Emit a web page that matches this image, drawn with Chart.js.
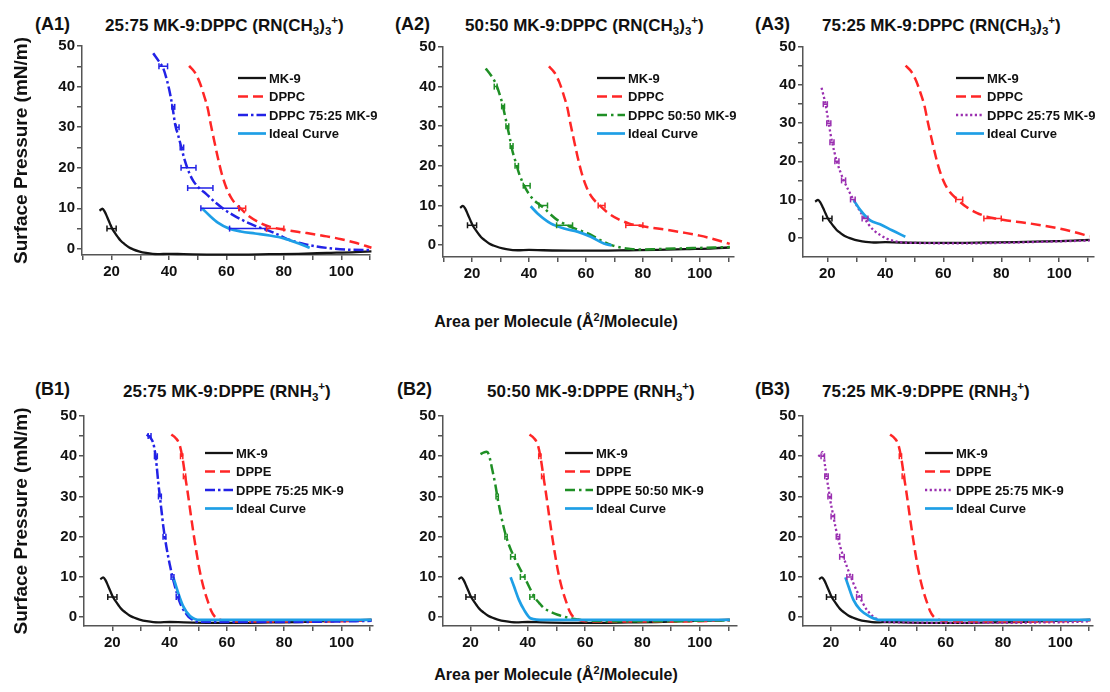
<!DOCTYPE html>
<html>
<head>
<meta charset="utf-8">
<script src="https://cdn.jsdelivr.net/npm/chart.js@4.4.1/dist/chart.umd.min.js"></script>
<style>
  body { margin: 0; background: #fff; }
  #figure { position: relative; width: 1110px; height: 692px; overflow: hidden;
    font-family: "Liberation Sans", Arial, sans-serif; font-weight: bold; color: #111; }
  #figure canvas { position: absolute; }
  .tag, .title, .xtitle { position: absolute; white-space: nowrap; line-height: 1; }
  .tag { font-size: 18px; }
  .title { font-size: 17px; }
  .xtitle { font-size: 16px; transform: translateX(-50%); }
  sub, sup { font-size: 0.68em; line-height: 0; }
</style>
</head>
<body>
<div id="figure">
  <div class="tag" style="left:35px;top:15px">(A1)</div>
  <div class="title" style="left:105px;top:17px">25:75 MK-9:DPPC (RN(CH<sub>3</sub>)<sub>3</sub><sup>+</sup>)</div>
  <div class="tag" style="left:395px;top:15px">(A2)</div>
  <div class="title" style="left:465px;top:17px">50:50 MK-9:DPPC (RN(CH<sub>3</sub>)<sub>3</sub><sup>+</sup>)</div>
  <div class="tag" style="left:755px;top:15px">(A3)</div>
  <div class="title" style="left:822px;top:17px">75:25 MK-9:DPPC (RN(CH<sub>3</sub>)<sub>3</sub><sup>+</sup>)</div>
  <div class="xtitle" style="left:556px;top:314px">Area per Molecule (Å<sup>2</sup>/Molecule)</div>

  <div class="tag" style="left:35px;top:380px">(B1)</div>
  <div class="title" style="left:123px;top:383px">25:75 MK-9:DPPE (RNH<sub>3</sub><sup>+</sup>)</div>
  <div class="tag" style="left:397px;top:380px">(B2)</div>
  <div class="title" style="left:487px;top:383px">50:50 MK-9:DPPE (RNH<sub>3</sub><sup>+</sup>)</div>
  <div class="tag" style="left:755px;top:380px">(B3)</div>
  <div class="title" style="left:822px;top:383px">75:25 MK-9:DPPE (RNH<sub>3</sub><sup>+</sup>)</div>
  <div class="xtitle" style="left:556px;top:667px">Area per Molecule (Å<sup>2</sup>/Molecule)</div>
</div>
<script>
// axis ticks (labels only on every second x tick / every second y tick)
const areaTicks = [10, 20, 30, 40, 50, 60, 70, 80, 90, 100, 110];
const pressureTicks = [0, 5, 10, 15, 20, 25, 30, 35, 40, 45, 50];

// pure MK-9 isotherm (same in every panel)
const mk9Area = [15.8, 16.8, 17.6, 18.5, 19.4, 20.2, 21.2, 22.2, 23.2, 24.5, 26, 27.5, 29.5, 32, 36, 40, 45, 55, 65, 75, 85, 95, 105, 110.5];
const mk9Pressure = [9.4, 9.9, 9.2, 7.8, 6.3, 5.0, 3.9, 2.9, 2.0, 1.2, 0.4, -0.1, -0.6, -1.0, -1.3, -1.2, -1.3, -1.4, -1.4, -1.3, -1.2, -1.0, -0.8, -0.6];
const mk9ErrPressure = [5];
const mk9ErrArea = [20];
const mk9ErrHalf = [1.6];

// pure DPPC (A row)
const dppcArea = [47, 49, 50.7, 52.2, 53.5, 54.6, 55.7, 57, 58.3, 60, 62, 65, 68, 71.5, 75, 78, 82, 88, 94, 100, 105, 110.5];
const dppcPressure = [45.1, 43.5, 41.0, 37.8, 34.6, 30.5, 26.8, 22.5, 18.7, 15.0, 12.2, 9.9, 8.0, 6.5, 5.5, 5.0, 4.5, 3.9, 3.2, 2.4, 1.5, 0.3];
const dppcErrPressure = [10, 5];
const dppcErrArea = [65.5, 77];
const dppcErrHalf = [1.2, 3];

// pure DPPE (B row)
const dppeArea = [40.6, 42, 43.5, 44.5, 45.4, 46.4, 47.4, 48.4, 49.4, 50.4, 51.4, 52.4, 53.4, 54.5, 55.7, 57.5, 60, 70, 80, 90, 100, 110.5];
const dppePressure = [45.4, 44.6, 42.8, 39.5, 35.2, 30.5, 25.4, 20.5, 16.0, 11.9, 8.6, 6.0, 3.8, 1.6, 0.2, -0.6, -1.0, -1.1, -1.1, -1.1, -1.0, -0.8];
const dppeErrPressure = [40, 35];
const dppeErrArea = [44.2, 45.2];
const dppeErrHalf = [0.4, 0.4];

// A1: DPPC 75:25 MK-9
const a1MixArea = [34.5, 36.5, 38, 39.3, 40.3, 41.2, 42.2, 43.2, 44.3, 45.5, 47, 48.5, 50.5, 53, 56.4, 59.5, 62.2, 65, 68, 71, 74, 78, 82, 86, 91.4, 97, 103, 110.5];
const a1MixPressure = [48.2, 46.2, 44.5, 41.5, 38.5, 35, 30.5, 28, 25, 21.8, 18.8, 16.7, 15, 13.5, 11.3, 9.6, 8.4, 7.3, 6.3, 5.4, 4.7, 3.5, 2.2, 1.4, 0.6, 0.1, -0.2, -0.3];
const a1MixErrPressure = [45, 35, 30, 25, 20, 15, 10, 5];
const a1MixErrArea = [38, 41.5, 43, 44.5, 46.8, 50.9, 57.8, 67.5];
const a1MixErrHalf = [1.5, 0.5, 0.5, 0.6, 2.6, 4.4, 6.7, 6.4];
const a1IdealArea = [51.5, 54, 57, 61, 65, 70, 75, 80, 85, 89];
const a1IdealPressure = [10, 8.3, 6.5, 5, 4.3, 3.8, 3.3, 2.6, 1.4, 0.3];

// A2: DPPC 50:50 MK-9
const a2MixArea = [24.8, 26.5, 28.3, 29.5, 30.6, 31.5, 32.4, 33.3, 34.1, 35.3, 36.5, 37.6, 38.8, 40.2, 41.7, 43.5, 45.3, 47.5, 50, 52.3, 54.6, 57.5, 60.5, 63.5, 66.3, 69, 72.2, 75, 78, 85, 95, 105, 110.5];
const a2MixPressure = [44.6, 43, 40.8, 38.5, 35.8, 32.9, 29.9, 26.9, 24, 21, 18.1, 16.1, 14.3, 12.7, 11.4, 10.3, 9.3, 7.8, 6.3, 5.4, 4.6, 3.8, 3.0, 1.9, 0.8, 0.0, -0.6, -0.9, -1.1, -1.0, -0.8, -0.6, -0.5];
const a2MixErrPressure = [40, 35, 30, 25, 20, 15, 10, 5];
const a2MixErrArea = [28.3, 30.9, 32.4, 33.9, 35.7, 39.2, 45, 52.5];
const a2MixErrHalf = [0.5, 0.5, 0.5, 0.5, 0.6, 1.2, 1.5, 2.8];
const a2IdealArea = [40.6, 43, 47.6, 52.3, 57, 61.7, 66.3, 69];
const a2IdealPressure = [9.8, 8, 5.5, 4.2, 3.4, 2.1, 0.4, -0.1];

// A3: DPPC 25:75 MK-9
const a3MixArea = [18, 18.7, 19.3, 19.9, 20.5, 21, 21.6, 22.4, 23.3, 24.4, 25.6, 27.3, 29.1, 30.8, 32.5, 34.2, 36, 38.2, 40.5, 45, 50, 60, 70, 80, 90, 100, 110.5];
const a3MixPressure = [39.3, 37.2, 35.3, 32.6, 30, 27.6, 25.2, 22.5, 19.9, 17.4, 15.1, 12.4, 9.8, 7.5, 5.4, 3.5, 1.9, 0.7, -0.3, -1.2, -1.4, -1.5, -1.5, -1.4, -1.2, -1.0, -0.8];
const a3MixErrPressure = [35, 30, 25, 20, 15, 10, 5];
const a3MixErrArea = [19.3, 20.5, 21.6, 23.3, 25.6, 28.8, 33];
const a3MixErrHalf = [0.7, 0.7, 0.7, 0.7, 0.7, 0.8, 1];
const a3IdealArea = [29.1, 31.4, 34.8, 38.2, 42.3, 46.9];
const a3IdealPressure = [9.8, 7.2, 4.5, 3.5, 1.9, 0.2];

// B1: DPPE 75:25 MK-9
const b1MixArea = [32, 33.3, 34.3, 35, 35.5, 36, 36.6, 37.2, 37.8, 38.6, 39.5, 40.1, 40.7, 41.6, 42.5, 43.3, 44.2, 45.4, 46.6, 48, 49.5, 55, 65, 75, 85, 95, 105, 110.5];
const b1MixPressure = [45.4, 44.6, 43.2, 40.5, 37.4, 33.7, 29.9, 26.2, 22.5, 18.6, 15, 12.9, 10.9, 8.3, 6, 4.2, 2.6, 1.2, 0.1, -0.6, -1.1, -1.2, -1.2, -1.2, -1.2, -1.1, -1.0, -0.9];
const b1MixErrPressure = [45, 40, 30, 20, 10, 5];
const b1MixErrArea = [33, 35.2, 36.6, 38.2, 41, 42.8];
const b1MixErrHalf = [0.5, 0.5, 0.5, 0.5, 0.5, 0.5];
const b1IdealArea = [41.3, 43, 44.8, 47.1, 50.6, 55, 65, 75, 85, 95, 105, 110.5];
const b1IdealPressure = [9.9, 6, 2.6, 0.3, -0.7, -0.7, -0.7, -0.7, -0.7, -0.7, -0.7, -0.7];

// B2: DPPE 50:50 MK-9
const b2MixArea = [23.5, 24.5, 25.7, 26.4, 26.9, 27.7, 28.6, 29.5, 30.5, 31.6, 32.8, 34, 35.2, 37, 38.7, 40.5, 42.2, 44, 45.7, 48, 50.4, 55, 60, 70, 80, 90, 100, 110.5];
const b2MixPressure = [40.5, 40.9, 41.1, 40.4, 39, 36.3, 33.2, 29.4, 25.8, 22.3, 19.2, 16.9, 15, 12.4, 10.1, 7.5, 5.1, 3.5, 2.2, 1.3, 0.6, -0.3, -0.8, -1.0, -1.0, -1.0, -0.9, -0.8];
const b2MixErrPressure = [30, 20, 15, 10, 5];
const b2MixErrArea = [29.3, 32.4, 34.8, 38.2, 41.5];
const b2MixErrHalf = [0.4, 0.4, 0.8, 0.8, 0.8];
const b2IdealArea = [34, 35.2, 36.9, 38.7, 41, 45.7, 55, 65, 75, 85, 95, 105, 110.5];
const b2IdealPressure = [9.9, 7.6, 4.3, 1.8, -0.3, -0.7, -0.7, -0.7, -0.7, -0.7, -0.7, -0.7, -0.7];

// B3: DPPE 25:75 MK-9
const b3MixArea = [15.6, 16.4, 17.1, 17.9, 18.6, 19.2, 19.7, 20.6, 21.5, 22.3, 23.2, 24.3, 25.5, 26.6, 27.8, 29, 30.2, 31.3, 32.5, 33.6, 34.8, 36.5, 38.3, 45, 55, 65, 75, 85, 95, 105, 110.5];
const b3MixPressure = [39.9, 40.6, 41.1, 37.6, 34.1, 31.6, 29.1, 25.8, 22.5, 20, 17.5, 15, 12.6, 10.5, 8.4, 6.5, 4.7, 3.2, 1.8, 0.9, 0.1, -0.6, -1.1, -1.3, -1.4, -1.4, -1.4, -1.4, -1.3, -1.2, -1.0];
const b3MixErrPressure = [40, 35, 30, 25, 20, 15, 10, 5];
const b3MixErrArea = [17.1, 18.4, 19.5, 20.6, 22.4, 23.8, 26.5, 29.8];
const b3MixErrHalf = [0.6, 0.6, 0.6, 0.6, 0.6, 0.8, 1.0, 0.9];
const b3IdealArea = [25, 26.1, 27.8, 30.2, 33.6, 37.1, 45, 55, 65, 75, 85, 95, 105, 110.5];
const b3IdealPressure = [9.9, 7.6, 4.3, 1.8, 0.1, -0.7, -0.7, -0.7, -0.7, -0.7, -0.7, -0.7, -0.7, -0.7];

const FONT = '"Liberation Sans", Arial, sans-serif';
Chart.defaults.font.family = FONT;
Chart.defaults.font.weight = 'bold';
Chart.defaults.font.size = 15;
Chart.defaults.color = '#111';

const styles = {
  mk9: { color: '#141414', dash: [], width: 2.3 },
  dppc: { color: '#ff2626', dash: [10, 5], width: 2.5 },
  blue: { color: '#2222e6', dash: [10, 3, 2.5, 3], width: 2.5 },
  green: { color: '#1f8f25', dash: [10, 4, 2.5, 4], width: 2.5 },
  purple: { color: '#9a2fb0', dash: [2.2, 2.5], width: 2.3 },
  ideal: { color: '#1e9fe6', dash: [], width: 2.7 },
};

function toPoints(xs, ys) {
  return xs.map((x, i) => ({ x, y: ys[i] }));
}

function curve(label, xs, ys, st, order) {
  return {
    label, data: toPoints(xs, ys), showLine: true, inLegend: true, order,
    borderColor: st.color, borderWidth: st.width, borderDash: st.dash,
    pointRadius: 0, cubicInterpolationMode: 'monotone',
  };
}

// horizontal error bars: two end points per bar, broken by an empty point
function errorBars(ys, xs, halves, st) {
  const data = [];
  ys.forEach((y, i) => {
    data.push({ x: xs[i] - halves[i], y }, { x: xs[i] + halves[i], y }, { x: null, y: null });
  });
  return {
    label: 'err', data, showLine: true, order: 0, spanGaps: false,
    borderColor: st.color, borderWidth: 1.5,
    pointStyle: 'line', rotation: 90, pointRadius: 3, pointBorderWidth: 1.5,
    pointBorderColor: st.color, pointBackgroundColor: st.color,
  };
}

// legend drawn inside the plot area, top right
const insideLegend = {
  id: 'insideLegend',
  afterDatasetsDraw(chart, args, opts) {
    const { ctx, chartArea } = chart;
    const x0 = chartArea.left + opts.x;
    let y = chartArea.top + opts.y;
    ctx.save();
    ctx.font = 'bold 13px ' + FONT;
    ctx.textBaseline = 'middle';
    chart.data.datasets.forEach((ds) => {
      if (!ds.inLegend) return;
      ctx.strokeStyle = ds.borderColor;
      ctx.lineWidth = ds.borderWidth;
      ctx.setLineDash(ds.borderDash || []);
      ctx.beginPath();
      ctx.moveTo(x0, y);
      ctx.lineTo(x0 + 28, y);
      ctx.stroke();
      ctx.setLineDash([]);
      ctx.fillStyle = '#111';
      ctx.fillText(ds.label, x0 + 31, y + 1);
      y += 18.5;
    });
    ctx.restore();
  },
};

const panels = [
  { box: [82, 46, 370, 255], xr: [9.7, 110], yr: [-1.5, 50], yTitle: true, leg: [156, 32],
    pure: 'DPPC', mixLabel: 'DPPC 75:25 MK-9', mix: [a1MixArea, a1MixPressure], mixErr: [a1MixErrPressure, a1MixErrArea, a1MixErrHalf],
    ideal: [a1IdealArea, a1IdealPressure], mixStyle: styles.blue },
  { box: [443, 47, 734, 257], xr: [9.8, 112], yr: [-3, 50], leg: [154, 31],
    pure: 'DPPC', mixLabel: 'DPPC 50:50 MK-9', mix: [a2MixArea, a2MixPressure], mixErr: [a2MixErrPressure, a2MixErrArea, a2MixErrHalf],
    ideal: [a2IdealArea, a2IdealPressure], mixStyle: styles.green },
  { box: [803, 47, 1094, 257], xr: [11.6, 112], yr: [-5.1, 50], leg: [153, 31],
    pure: 'DPPC', mixLabel: 'DPPC 25:75 MK-9', mix: [a3MixArea, a3MixPressure], mixErr: [a3MixErrPressure, a3MixErrArea, a3MixErrHalf],
    ideal: [a3IdealArea, a3IdealPressure], mixStyle: styles.purple },
  { box: [84, 416, 373, 626], xr: [10.1, 111], yr: [-2.2, 50], yTitle: true, leg: [121, 37],
    pure: 'DPPE', mixLabel: 'DPPE 75:25 MK-9', mix: [b1MixArea, b1MixPressure], mixErr: [b1MixErrPressure, b1MixErrArea, b1MixErrHalf],
    ideal: [b1IdealArea, b1IdealPressure], mixStyle: styles.blue },
  { box: [443, 416, 737, 626], xr: [10.4, 113], yr: [-2.2, 50], leg: [122, 37],
    pure: 'DPPE', mixLabel: 'DPPE 50:50 MK-9', mix: [b2MixArea, b2MixPressure], mixErr: [b2MixErrPressure, b2MixErrArea, b2MixErrHalf],
    ideal: [b2IdealArea, b2IdealPressure], mixStyle: styles.green },
  { box: [803, 416, 1093, 626], xr: [10.2, 111.4], yr: [-2.2, 50], leg: [122, 37],
    pure: 'DPPE', mixLabel: 'DPPE 25:75 MK-9', mix: [b3MixArea, b3MixPressure], mixErr: [b3MixErrPressure, b3MixErrArea, b3MixErrHalf],
    ideal: [b3IdealArea, b3IdealPressure], mixStyle: styles.purple },
];

const figure = document.getElementById('figure');

panels.forEach((p) => {
  const [left, top, right, bottom] = p.box;
  const yW = p.yTitle ? left : 50;
  const padTop = 12, padRight = 18, xH = 30;
  const canvas = document.createElement('canvas');
  const w = yW + (right - left) + padRight;
  const h = padTop + (bottom - top) + xH;
  canvas.width = w; canvas.height = h;
  canvas.style.left = (left - yW) + 'px';
  canvas.style.top = (top - padTop) + 'px';
  canvas.style.width = w + 'px';
  canvas.style.height = h + 'px';
  figure.appendChild(canvas);

  const isA = p.pure === 'DPPC';
  const pureX = isA ? dppcArea : dppeArea;
  const pureY = isA ? dppcPressure : dppePressure;
  const pureErr = isA ? [dppcErrPressure, dppcErrArea, dppcErrHalf] : [dppeErrPressure, dppeErrArea, dppeErrHalf];

  const datasets = [
    curve('MK-9', mk9Area, mk9Pressure, styles.mk9, 5),
    curve(p.pure, pureX, pureY, styles.dppc, 4),
    curve(p.mixLabel, p.mix[0], p.mix[1], p.mixStyle, 3),
    curve('Ideal Curve', p.ideal[0], p.ideal[1], styles.ideal, 2),
    errorBars(mk9ErrPressure, mk9ErrArea, mk9ErrHalf, styles.mk9),
    errorBars(pureErr[0], pureErr[1], pureErr[2], styles.dppc),
    errorBars(p.mixErr[0], p.mixErr[1], p.mixErr[2], p.mixStyle),
  ];

  const axisLine = { color: '#555', width: 1.5 };
  const tickGrid = { drawOnChartArea: false, drawTicks: true, tickLength: 5, color: '#555', lineWidth: 1.5 };

  new Chart(canvas.getContext('2d'), {
    type: 'scatter',
    data: { datasets },
    options: {
      responsive: false,
      animation: false,
      devicePixelRatio: 1,
      layout: { padding: { top: padTop, right: padRight, left: 0, bottom: 0 } },
      clip: false,
      plugins: {
        legend: { display: false },
        tooltip: { enabled: false },
        insideLegend: { x: p.leg[0], y: p.leg[1] },
      },
      scales: {
        x: {
          type: 'linear', min: p.xr[0], max: p.xr[1],
          afterFit: (s) => { s.height = xH; },
          afterBuildTicks: (s) => { s.ticks = areaTicks.filter((v) => v >= s.min && v <= s.max).map((v) => ({ value: v })); },
          ticks: { autoSkip: false, maxRotation: 0, padding: 3, callback: (v) => (v % 20 === 0 ? String(v) : '') },
          grid: tickGrid,
          border: axisLine,
        },
        y: {
          type: 'linear', min: p.yr[0], max: p.yr[1],
          afterFit: (s) => { s.width = yW; },
          afterBuildTicks: (s) => { s.ticks = pressureTicks.map((v) => ({ value: v })); },
          ticks: { autoSkip: false, padding: 2, callback: (v) => (v % 10 === 0 ? String(v) : '') },
          grid: tickGrid,
          border: axisLine,
          title: {
            display: !!p.yTitle, text: 'Surface Pressure (mN/m)',
            font: { size: 19, weight: 'bold' }, color: '#111', padding: { top: 10, bottom: 0 },
          },
        },
      },
    },
    plugins: [insideLegend],
  });
});
</script>
</body>
</html>
